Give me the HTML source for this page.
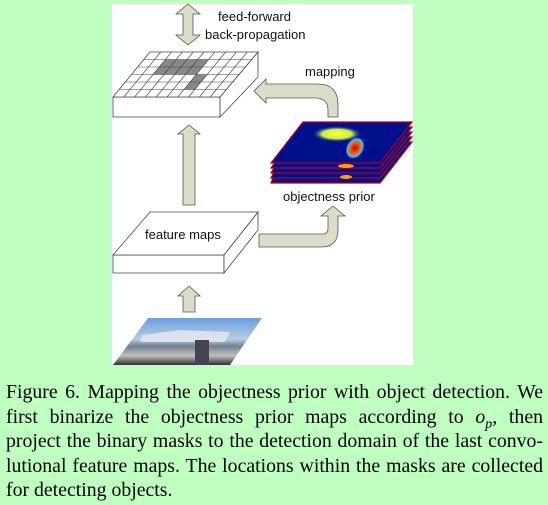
<!DOCTYPE html>
<html><head><meta charset="utf-8"><style>
html,body{margin:0;padding:0;background:#bfffbf;width:548px;height:505px;overflow:hidden;position:relative}
.cap{position:absolute;left:6px;width:537px;top:380px;font-family:"Liberation Serif",serif;font-size:19.8px;line-height:24.6px;color:#000}
.cap div{text-align:justify;text-align-last:justify;white-space:nowrap;height:24.6px}
.cap div.l{text-align-last:left}
sub{line-height:0;font-size:14px}
svg{position:absolute;left:0;top:0}
.t{font-family:"Liberation Sans",sans-serif;font-size:13px;fill:#111}
</style></head><body>
<svg width="548" height="505">
<defs>
<radialGradient id="y" cx="0.5" cy="0.5" r="0.5"><stop offset="0" stop-color="#ffff40"/><stop offset="0.6" stop-color="#c8f040"/><stop offset="1" stop-color="#0020a0" stop-opacity="0"/></radialGradient>
<radialGradient id="r" cx="0.5" cy="0.5" r="0.5"><stop offset="0" stop-color="#c00000"/><stop offset="0.5" stop-color="#ff6000"/><stop offset="0.8" stop-color="#40c0ff"/><stop offset="1" stop-color="#0020a0" stop-opacity="0"/></radialGradient>
<linearGradient id="ph" x1="0" y1="0" x2="0" y2="1"><stop offset="0" stop-color="#6aa0e0"/><stop offset="0.45" stop-color="#b8cce0"/><stop offset="0.6" stop-color="#708090"/><stop offset="0.8" stop-color="#c0c0c0"/><stop offset="1" stop-color="#303030"/></linearGradient>
</defs>
<rect x="112" y="4" width="301" height="361" fill="#fff"/>
<polygon points="188,4 200,14 193,14 193,35 200,35 188,45 176,35 183,35 183,14 176,14" fill="#dcdcc8" stroke="#555" stroke-width="0.8"/>
<text class="t" x="218" y="21">feed-forward</text>
<text class="t" x="205" y="39">back-propagation</text>
<polygon points="113,97 220,97 220,117 113,117" fill="#fff" stroke="#444" stroke-width="0.8"/>
<polygon points="220,97 258,52 258,77 220,117" fill="#fff" stroke="#444" stroke-width="0.8"/>
<polygon points="113,97 150,52 258,52 220,97" fill="#fff" stroke="#444" stroke-width="0.8"/>
<g fill="#888">
<polygon points="165.4,59.5 208.6,59.5 196.3,74.5 153.1,74.5"/>
<polygon points="196.3,74.5 207.1,74.5 194.8,89.5 184,89.5"/>
</g>
<g stroke="#444" stroke-width="0.6" fill="none">
<line x1="143.8" y1="59.5" x2="251.8" y2="59.5"/><line x1="137.5" y1="67" x2="245.5" y2="67"/><line x1="131.3" y1="74.5" x2="239.3" y2="74.5"/><line x1="125" y1="82" x2="233" y2="82"/><line x1="118.8" y1="89.5" x2="226.8" y2="89.5"/>
<line x1="160.8" y1="52" x2="123.8" y2="97"/><line x1="171.6" y1="52" x2="134.6" y2="97"/><line x1="182.4" y1="52" x2="145.4" y2="97"/><line x1="193.2" y1="52" x2="156.2" y2="97"/><line x1="204" y1="52" x2="167" y2="97"/><line x1="214.8" y1="52" x2="177.8" y2="97"/><line x1="225.6" y1="52" x2="188.6" y2="97"/><line x1="236.4" y1="52" x2="199.4" y2="97"/><line x1="247.2" y1="52" x2="210.2" y2="97"/>
</g>
<path d="M328,117 L338,117 L338,105 Q338,84 318,84 L266,84 L266,79 L254,91 L266,103 L266,98 L315,98 Q328,98 328,110 Z" fill="#dcdcc8" stroke="#555" stroke-width="0.8"/>
<text class="t" x="305" y="76">mapping</text>
<g stroke="#b00020" stroke-width="1.2" fill="#00108c">
<polygon points="287,142 412,142 380,183 271,183"/>
<polygon points="291,137 412,137 380,178 271,178"/>
<polygon points="295,132 412,132 380,173 271,173"/>
<polygon points="299,127 412,127 380,168 271,168"/>
<polygon points="303,122 412,122 380,163 271,163"/>
</g>
<ellipse cx="337" cy="134" rx="25" ry="8" fill="url(#y)"/>
<ellipse cx="355" cy="148" rx="9" ry="12" fill="url(#r)" transform="rotate(30 355 148)"/>
<ellipse cx="346" cy="166" rx="8" ry="2" fill="#ffa000"/>
<ellipse cx="346" cy="177" rx="6" ry="2" fill="#ffa000"/>
<text class="t" x="283" y="201">objectness prior</text>
<polygon points="189,125 200,134 195,134 195,205 183,205 183,134 178,134" fill="#dcdcc8" stroke="#555" stroke-width="0.8"/>
<polygon points="113,255 224,255 224,273 113,273" fill="#fff" stroke="#444" stroke-width="0.8"/>
<polygon points="224,255 258,212 258,230 224,273" fill="#fff" stroke="#444" stroke-width="0.8"/>
<polygon points="113,255 150,212 258,212 224,255" fill="#fff" stroke="#444" stroke-width="0.8"/>
<text class="t" x="145" y="239">feature maps</text>
<path d="M259,234 L323,234 Q328,234 328,228 L328,216 L321,216 L333,206 L345,216 L338,216 L338,230 Q338,247 321,247 L259,247 Z" fill="#dcdcc8" stroke="#555" stroke-width="0.8"/>
<polygon points="189,286 200,296 195,296 195,312 183,312 183,296 178,296" fill="#dcdcc8" stroke="#555" stroke-width="0.8"/>
<polygon points="113,365 148,318 262,318 230,365" fill="url(#ph)"/>
<polygon points="142,335 180,330 230,332 225,342 140,342" fill="#e8e8f0" opacity="0.8"/>
<rect x="195" y="340" width="14" height="25" fill="#445"/>
</svg>
<div class="cap">
<div>Figure 6. Mapping the objectness prior with object detection. We</div>
<div>first binarize the objectness prior maps according to <i>o<sub>p</sub></i>, then</div>
<div>project the binary masks to the detection domain of the last convo-</div>
<div>lutional feature maps. The locations within the masks are collected</div>
<div class="l">for detecting objects.</div>
</div>
</body></html>
